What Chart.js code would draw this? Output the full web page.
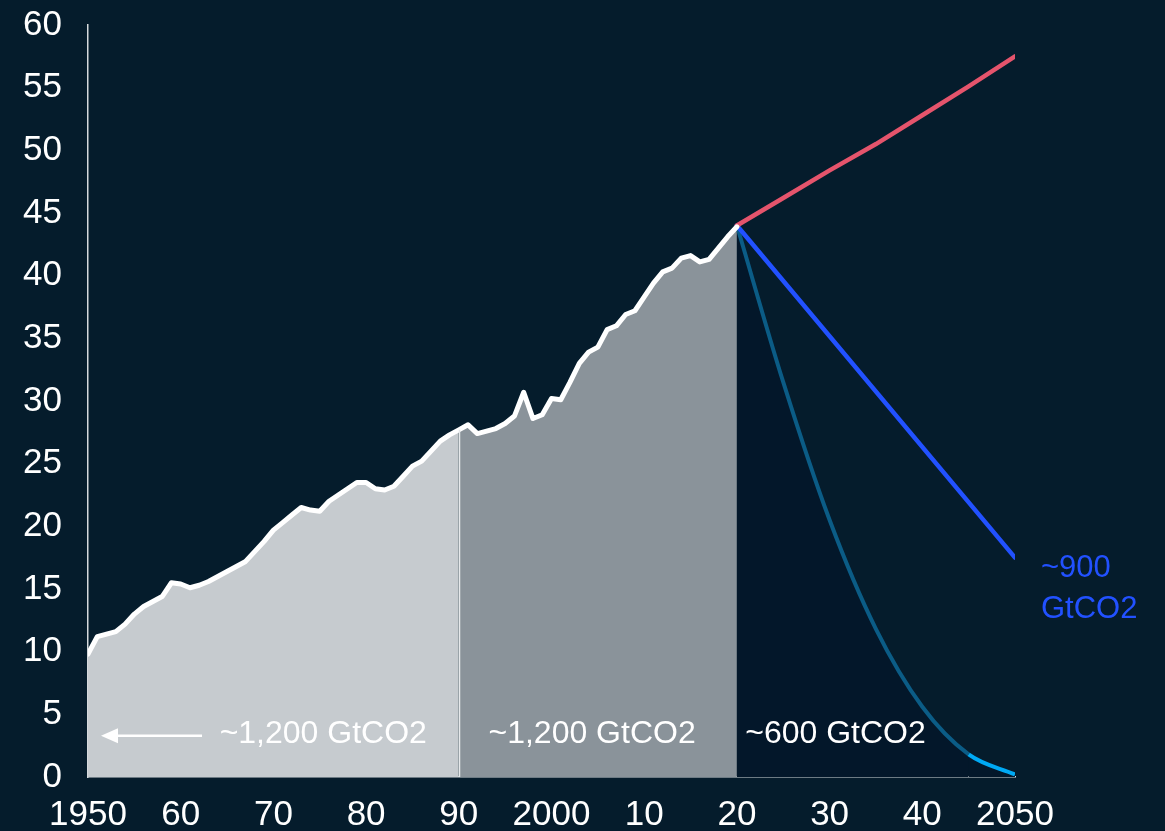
<!DOCTYPE html>
<html>
<head>
<meta charset="utf-8">
<title>CO2 emissions pathways</title>
<script src="https://cdn.jsdelivr.net/npm/chart.js@4.4.1/dist/chart.umd.min.js"></script>
<style>
  html, body { margin: 0; padding: 0; background: #051c2c; }
  #wrap { width: 1165px; height: 831px; }
</style>
</head>
<body>
<div id="wrap"><canvas id="emissions" width="1165" height="831"></canvas></div>
<script>
// Historical emissions, GtCO2 per year
const histYears = [
  1950, 1951, 1952, 1953, 1954, 1955, 1956, 1957, 1958, 1959,
  1960, 1961, 1962, 1963, 1964, 1965, 1966, 1967, 1968, 1969,
  1970, 1971, 1972, 1973, 1974, 1975, 1976, 1977, 1978, 1979,
  1980, 1981, 1982, 1983, 1984, 1985, 1986, 1987, 1988, 1989,
  1990, 1991, 1992, 1993, 1994, 1995, 1996, 1997, 1998, 1999,
  2000, 2001, 2002, 2003, 2004, 2005, 2006, 2007, 2008, 2009,
  2010, 2011, 2012, 2013, 2014, 2015, 2016, 2017, 2018, 2019,
  2020
];
const histValues = [
  9.8, 11.2, 11.4, 11.6, 12.2, 13.0, 13.6, 14.0, 14.4, 15.5,
  15.4, 15.1, 15.3, 15.6, 16.0, 16.4, 16.8, 17.2, 18.0, 18.8,
  19.7, 20.3, 20.9, 21.5, 21.3, 21.2, 22.0, 22.5, 23.0, 23.5,
  23.5, 23.0, 22.9, 23.2, 24.0, 24.8, 25.2, 26.0, 26.8, 27.3,
  27.7, 28.1, 27.4, 27.6, 27.8, 28.2, 28.8, 30.7, 28.6, 28.9,
  30.2, 30.1, 31.5, 33.0, 33.9, 34.3, 35.7, 36.0, 36.9, 37.2,
  38.3, 39.4, 40.3, 40.6, 41.4, 41.6, 41.1, 41.3, 42.2, 43.1,
  43.9
];

// Pathways 2020-2050
const pathYears = [2020, 2025, 2030, 2035, 2040, 2045, 2050];
const currentTrend = [44.0, 46.2, 48.4, 50.5, 52.8, 55.1, 57.5];
const netZeroPath = [44.0, 31.5, 20.5, 11.8, 5.6, 1.8, 0.2];
const linearYears = [2020, 2050];
const linearPath = [44.0, 17.5];

// Axis ticks
const xTickValues = [1950, 1960, 1970, 1980, 1990, 2000, 2010, 2020, 2030, 2040, 2050];
const xTickLabels = ['1950', '60', '70', '80', '90', '2000', '10', '20', '30', '40', '2050'];
const yMin = 0;
const yMax = 60;
const yStep = 5;

const splitYear = 1990;

const FONT = "'Liberation Sans', Arial, sans-serif";
const COLORS = {
  bg: '#051c2c',
  light: '#c6cbcf',
  mid: '#8a939a',
  dark: '#03172a',
  white: '#ffffff',
  red: '#e5546c',
  blue: '#2251ff',
  teal: '#0b5c86',
  cyan: '#00a9f4',
  axis: '#d5d9dc'
};

const pairs = (xs, ys) => xs.map((x, i) => ({ x: x, y: ys[i] }));
const splitIdx = histYears.indexOf(splitYear);
const histPoints = pairs(histYears, histValues);

// Text and arrow drawn over the areas
const notes = [
  { text: '~1,200 GtCO2', year: 1964.2, value: 3.4, color: COLORS.white, size: 32 },
  { text: '~1,200 GtCO2', year: 1993.2, value: 3.4, color: COLORS.white, size: 32 },
  { text: '~600 GtCO2', year: 2020.9, value: 3.4, color: COLORS.white, size: 32 },
  { text: '~900', year: 2052.8, value: 16.6, color: COLORS.blue, size: 31 },
  { text: 'GtCO2', year: 2052.8, value: 13.4, color: COLORS.blue, size: 31 }
];

const overlayPlugin = {
  id: 'overlay',
  afterDatasetsDraw(chart) {
    const { ctx, scales: { x, y } } = chart;
    ctx.save();

    // divider between the two historical periods
    const xs = Math.round(x.getPixelForValue(splitYear)) + 0.5;
    ctx.strokeStyle = '#e6e9eb';
    ctx.lineWidth = 1.5;
    ctx.beginPath();
    ctx.moveTo(xs, y.getPixelForValue(0));
    ctx.lineTo(xs, y.getPixelForValue(histValues[splitIdx]));
    ctx.stroke();

    // arrow pointing back before 1950
    const ay = y.getPixelForValue(3.3);
    const ax0 = x.getPixelForValue(1962.3);
    const ax1 = x.getPixelForValue(1951.4);
    ctx.strokeStyle = COLORS.white;
    ctx.fillStyle = COLORS.white;
    ctx.lineWidth = 2.5;
    ctx.beginPath();
    ctx.moveTo(ax0, ay);
    ctx.lineTo(ax1 + 12, ay);
    ctx.stroke();
    ctx.beginPath();
    ctx.moveTo(ax1, ay);
    ctx.lineTo(ax1 + 17, ay - 7.5);
    ctx.lineTo(ax1 + 17, ay + 7.5);
    ctx.closePath();
    ctx.fill();

    ctx.textAlign = 'left';
    ctx.textBaseline = 'middle';
    notes.forEach(n => {
      ctx.font = n.size + 'px ' + FONT;
      ctx.fillStyle = n.color;
      ctx.fillText(n.text, x.getPixelForValue(n.year), y.getPixelForValue(n.value));
    });
    ctx.restore();
  }
};

new Chart(document.getElementById('emissions'), {
  type: 'line',
  data: {
    datasets: [
      {
        // historical line on top
        data: histPoints,
        borderColor: COLORS.white,
        borderWidth: 5,
        borderJoinStyle: 'round',
        borderCapStyle: 'round',
        fill: false,
        order: 0
      },
      {
        data: pairs(pathYears, currentTrend),
        borderColor: COLORS.red,
        borderWidth: 4.5,
        borderCapStyle: 'round',
        fill: false,
        order: 1
      },
      {
        data: pairs(linearYears, linearPath),
        borderColor: COLORS.blue,
        borderWidth: 4.5,
        borderCapStyle: 'round',
        fill: false,
        order: 1
      },
      {
        data: pairs(pathYears, netZeroPath),
        borderColor: COLORS.teal,
        backgroundColor: COLORS.dark,
        borderWidth: 4,
        cubicInterpolationMode: 'monotone',
        segment: {
          borderColor: c => c.p1DataIndex === netZeroPath.length - 1 ? COLORS.cyan : COLORS.teal
        },
        fill: 'origin',
        order: 2
      },
      {
        data: histPoints.slice(0, splitIdx + 1),
        backgroundColor: COLORS.light,
        borderWidth: 0,
        fill: 'origin',
        order: 5
      },
      {
        data: histPoints.slice(splitIdx),
        backgroundColor: COLORS.mid,
        borderWidth: 0,
        fill: 'origin',
        order: 5
      }
    ]
  },
  options: {
    responsive: false,
    animation: false,
    events: [],
    layout: { padding: { left: 0, right: 150, top: 25, bottom: 0 } },
    elements: { point: { radius: 0 } },
    plugins: {
      legend: { display: false },
      tooltip: { enabled: false }
    },
    scales: {
      x: {
        type: 'linear',
        min: 1950,
        max: 2050,
        afterBuildTicks: scale => { scale.ticks = xTickValues.map(v => ({ value: v })); },
        afterFit: scale => {
          scale.height = 54;
          scale.paddingLeft = 0;
          scale.paddingRight = 0;
        },
        grid: { display: false, drawTicks: false },
        border: { display: true, color: COLORS.axis, width: 1.5 },
        ticks: {
          autoSkip: false,
          maxRotation: 0,
          padding: 17,
          color: COLORS.white,
          font: { family: FONT, size: 35 },
          callback: v => xTickLabels[xTickValues.indexOf(v)]
        }
      },
      y: {
        min: yMin,
        max: yMax,
        afterFit: scale => {
          scale.width = 88;
          scale.paddingTop = 0;
          scale.paddingBottom = 0;
        },
        grid: { display: false, drawTicks: false },
        border: { display: true, color: COLORS.axis, width: 1.5 },
        ticks: {
          stepSize: yStep,
          padding: 26,
          color: COLORS.white,
          font: { family: FONT, size: 35 }
        }
      }
    }
  },
  plugins: [overlayPlugin]
});
</script>
</body>
</html>
